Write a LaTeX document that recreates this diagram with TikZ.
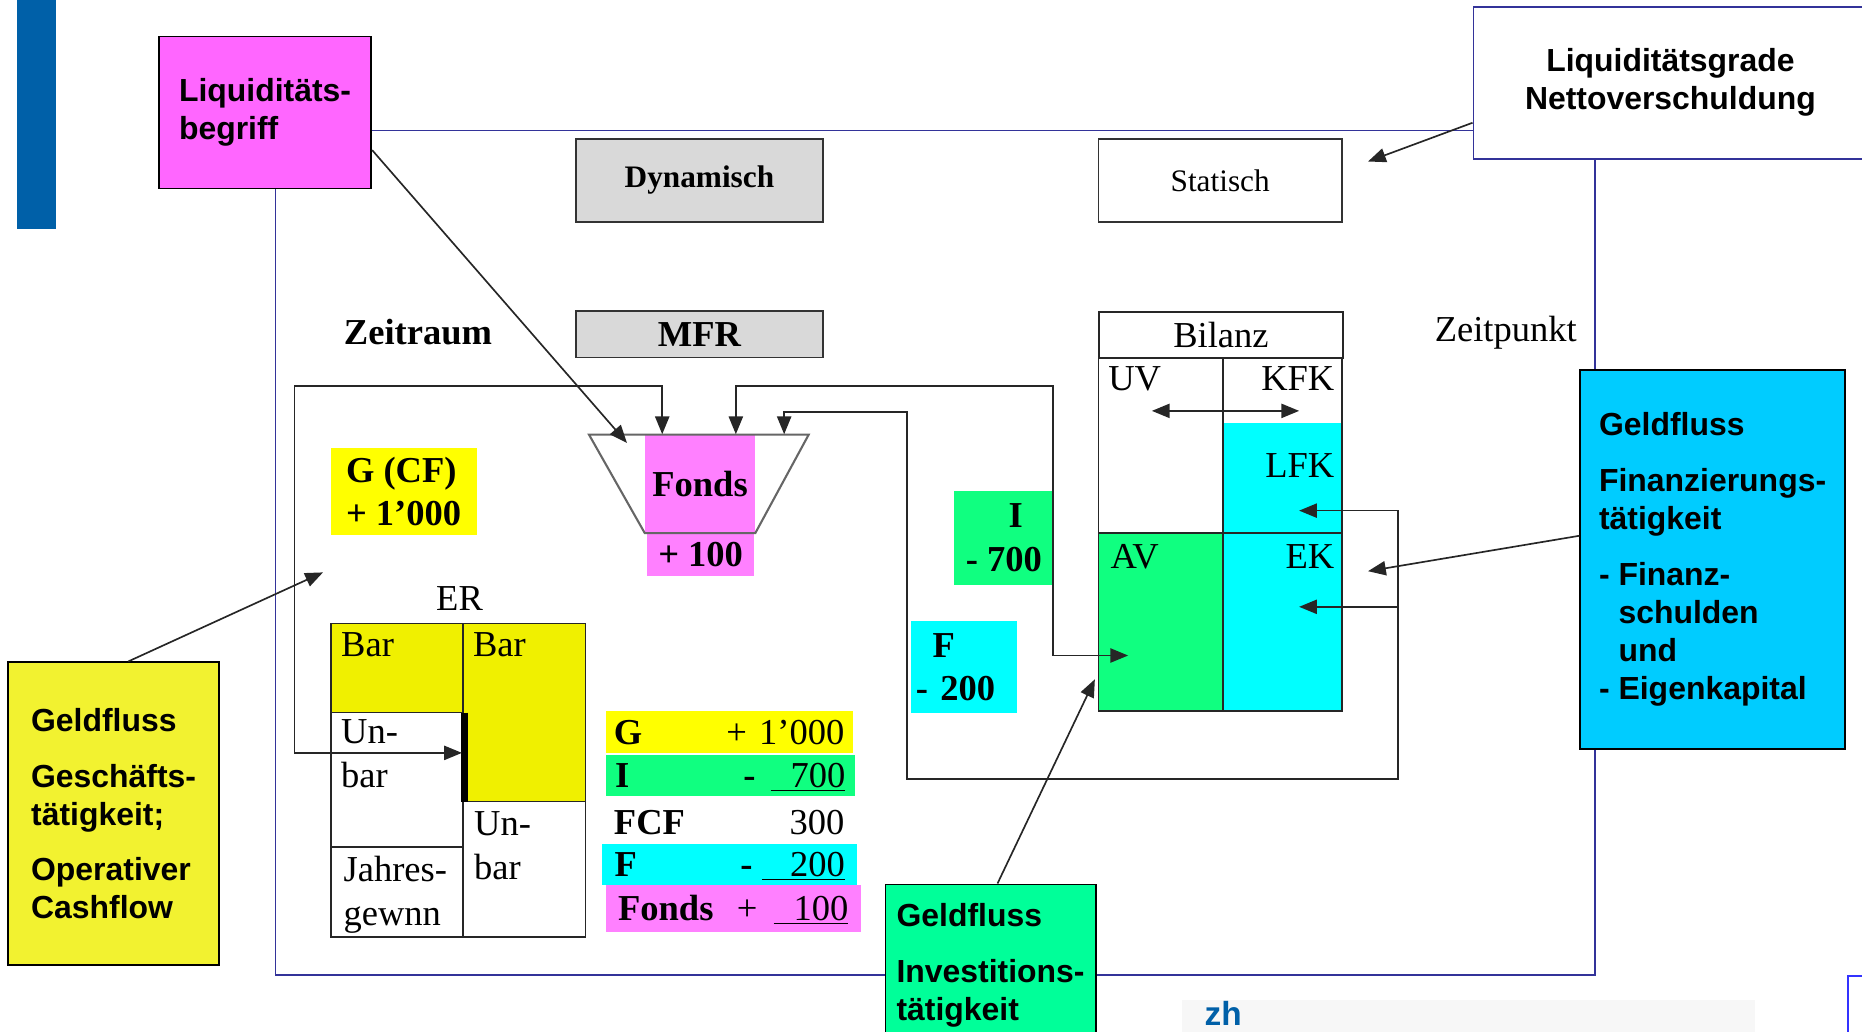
\documentclass[tikz,border=0pt]{standalone}
\usepackage{fontspec}
\setmainfont{Liberation Serif}
\setsansfont{Liberation Sans}
\usetikzlibrary{arrows.meta,calc}
\definecolor{gelb}{HTML}{FFFF00}
\definecolor{ergelb}{HTML}{F0F000}
\definecolor{hinweisgelb}{HTML}{F2F230}
\definecolor{gruen}{HTML}{10FF80}
\definecolor{hinweisgruen}{HTML}{00FF99}
\definecolor{tuerkis}{HTML}{00FFFF}
\definecolor{hinweisblau}{HTML}{00CCFF}
\definecolor{lmag}{HTML}{FF66FF}
\definecolor{fmag}{HTML}{FF80FF}
\definecolor{grau}{HTML}{D9D9D9}
\definecolor{rahmen}{HTML}{333399}
\definecolor{balken}{HTML}{0060A8}

\begin{document}
\begin{tikzpicture}[
    x=0.02cm, y=-0.02cm,
    hinweis/.style={draw, line width=0.8pt, anchor=north west, align=left, inner sep=0pt,
                    font=\sffamily\bfseries\fontsize{15.3}{18.2}\selectfont},
    kasten/.style={draw=black!80, line width=0.8pt, inner sep=0pt, font=\fontsize{15}{18}\selectfont},
    wert/.style={anchor=north west, inner sep=0pt, align=left, font=\fontsize{17.5}{21}\selectfont},
    feld/.style={inner sep=0pt, font=\bfseries\fontsize{17.5}{21}\selectfont},
    zeile/.style={inner sep=0pt, text width=3.88cm, text height=14pt, text depth=2.5pt,
                  font=\fontsize{17.5}{21}\selectfont},
    linie/.style={line width=0.8pt, draw=black!85},
    pfeil/.style={linie, -{Triangle[length=0.3cm,width=0.24cm]}},
    doppelpfeil/.style={linie, {Triangle[length=0.3cm,width=0.24cm]}-{Triangle[length=0.3cm,width=0.24cm]}}
  ]
  \useasboundingbox (0,0) rectangle (1568,869);
  \clip (0,0) rectangle (1568,869);

  % Folienrand
  \fill[balken] (14,0) rectangle (47,193);
  \fill[black!3] (995,842) rectangle (1478,869);
  \node[anchor=north west, inner sep=0pt, text=balken, font=\sffamily\bfseries\fontsize{16}{16}\selectfont] (logo) at (1014,843) {zh};
  \draw[blue!80, line width=1pt] (1556,822) rectangle (1575,875);

  % Rahmen
  \draw[rahmen, line width=0.7pt] (232,110) rectangle (1343,821);

  % Hinweise
  \node[hinweis, fill=lmag, minimum width=3.58cm, minimum height=2.56cm] (liq) at (133,30) {Liquiditäts-\\begriff};
  \node[hinweis, draw=rahmen, fill=white, align=center, minimum width=6.64cm, minimum height=2.56cm] (grade) at (1240,5)
    {Liquiditätsgrade\\Nettoverschuldung};
  \node[hinweis, fill=hinweisgelb, minimum width=3.56cm, minimum height=5.1cm] (geschaeft) at (6,557)
    {Geldfluss\\[0.3cm]Geschäfts-\\tätigkeit;\\[0.3cm]Operativer\\Cashflow};
  \node[hinweis, fill=hinweisblau, minimum width=4.46cm, minimum height=6.38cm] (finanz) at (1330,311)
    {Geldfluss\\[0.3cm]Finanzierungs-\\tätigkeit\\[0.3cm]- Finanz-\\\hphantom{- }schulden\\\hphantom{- }und\\- Eigenkapital};
  \node[hinweis, fill=hinweisgruen, minimum width=3.54cm, minimum height=2.72cm] (invest) at (745,744)
    {Geldfluss\\[0.3cm]Investitions-\\tätigkeit};

  % Kopf
  \node[kasten, fill=grau, minimum width=4.16cm, minimum height=1.4cm, font=\bfseries\fontsize{15}{18}\selectfont] (dyn) at (589,152) {Dynamisch};
  \node[kasten, fill=white, minimum width=4.1cm, minimum height=1.4cm] (stat) at (1027.5,152) {Statisch};
  \node[kasten, fill=grau, minimum width=4.16cm, minimum height=0.78cm, font=\bfseries\fontsize{17.5}{21}\selectfont] (mfr) at (589,281.5) {MFR};
  \node[feld] (zeitraum) at (352,280) {Zeitraum};
  \node[inner sep=0pt, font=\fontsize{17.5}{21}\selectfont] (zeitpunkt) at (1268,280) {Zeitpunkt};

  % Fonds
  \node[feld, fill=fmag, minimum width=1.86cm, minimum height=1.66cm] (fonds) at (589.5,407.5) {Fonds};
  \node[feld, fill=fmag, anchor=north, minimum width=1.8cm, minimum height=0.72cm] (fondsplus) at (590,449) {+ 100};
  \draw[black!60, line width=1pt] (496,366) -- (681,366) -- (636,449) -- (543,449) -- cycle;

  \node[feld, anchor=north west, fill=gelb, minimum width=2.46cm, minimum height=1.46cm, align=left] (gcf) at (278,377) {G (CF)\\+ 1’000};
  \node[feld, anchor=north west, fill=gruen, minimum width=1.68cm, minimum height=1.58cm, align=center] (ibox) at (803,413) {\hspace*{0.4cm}I\\- 700};
  \node[feld, anchor=north west, fill=tuerkis, minimum width=1.78cm, minimum height=1.54cm, text width=1.62cm, align=left] (fbox) at (767,523) {\hspace*{0.28cm}F\\- 200};

  % Bilanz
  \node[linie, draw, inner sep=0pt, anchor=north west, minimum width=4.1cm, minimum height=0.78cm, font=\fontsize{17.5}{21}\selectfont] (bilanz) at (925,262) {Bilanz};
  \fill[tuerkis] (1030,356) rectangle (1130,599);
  \fill[gruen] (925,449) rectangle (1030,599);
  \draw[linie] (925,301) rectangle (1130,599);
  \draw[linie] (1030,301) -- (1030,599);
  \draw[linie] (925,449) -- (1130,449);
  \node[wert] (uv) at (933,308) {UV};
  \node[wert, anchor=north east] (kfk) at (1124,308) {KFK};
  \node[wert, anchor=north east] (lfk) at (1124,382) {LFK};
  \node[wert] (av) at (935,458) {AV};
  \node[wert, anchor=north east] (ek) at (1124,458) {EK};

  % ER
  \node[inner sep=0pt, font=\fontsize{17.5}{21}\selectfont] (er) at (387,504) {ER};
  \fill[ergelb] (279,525) rectangle (390,600);
  \fill[ergelb] (390,525) rectangle (493,675);
  \draw[linie] (279,525) rectangle (493,789);
  \draw[linie] (390,525) -- (390,789);
  \draw[linie] (279,600) -- (390,600);
  \draw[linie] (279,713) -- (390,713);
  \draw[linie] (390,675) -- (493,675);
  \draw[line width=3.5pt] (391,600) -- (391,675);
  \node[wert] (barl) at (287,532) {Bar};
  \node[wert] (barr) at (398,532) {Bar};
  \node[wert] (unbarl) at (287,606) {Un-\\bar};
  \node[wert] (unbarr) at (399,683) {Un-\\bar};
  \node[wert] (jahr) at (289,721) {Jahres-\\gewnn};

  % Fondsrechnung
  \node[zeile, fill=gelb, minimum width=4.16cm, minimum height=0.7cm] (sg) at (614,616.5) {\textbf{G}\hfill + 1’000};
  \node[zeile, fill=gruen, minimum width=4.2cm, minimum height=0.68cm] (si) at (615,653)
    {\textbf{I}\hfill\makebox[0.46cm][l]{\textbf{-}}\underline{\makebox[1.26cm][r]{700}}};
  \node[zeile, minimum width=4.16cm, minimum height=0.7cm] (sfcf) at (614,692.5) {\textbf{FCF}\hfill 300};
  \node[zeile, fill=tuerkis, minimum width=4.3cm, minimum height=0.68cm] (sf) at (614.5,728)
    {\textbf{F}\hfill\makebox[0.36cm][l]{\textbf{-}}\underline{\makebox[1.4cm][r]{200}}};
  \node[zeile, fill=fmag, minimum width=4.3cm, minimum height=0.8cm] (sfonds) at (617.5,765)
    {\textbf{Fonds}\hfill\makebox[0.62cm][l]{+}\underline{\makebox[1.26cm][r]{100}}};

  % Zielpunkte
  \coordinate (fondsziel) at (528,373);
  \coordinate (statziel) at (1152,136);
  \coordinate (erziel) at (272,482);
  \coordinate (avziel) at (922,572);
  \coordinate (ekziel) at (1152,481);
  \coordinate (unbarziel) at (389,634);
  \coordinate (avpfeil) at (950,552);
  \coordinate (lfkpfeil) at (1094,430);
  \coordinate (ekpfeil) at (1094,511);
  \coordinate (uvpfeil) at (970,346);
  \coordinate (kfkpfeil) at (1094,346);

  % Geldfluesse
  \draw[doppelpfeil] ($(fonds.north west)+(15,0)$) |- (248,325) |- (unbarziel);
  \draw[doppelpfeil] ($(fonds.north west)+(77,0)$) |- (887,325) |- (avpfeil);
  \draw[doppelpfeil] ($(fonds.north east)+(24,0)$) |- (764,347) |- (1177,656) |- (lfkpfeil);
  \draw[pfeil] (1177,511) -- (ekpfeil);
  \draw[doppelpfeil] (uvpfeil) -- (kfkpfeil);

  % Hinweispfeile
  \draw[pfeil] ($(liq.south east)+(0,-33)$) -- (fondsziel);
  \draw[pfeil] ($(grade.south west)+(0,-31)$) -- (statziel);
  \draw[pfeil] ($(geschaeft.north west)+(102,0)$) -- (erziel);
  \draw[pfeil] ($(invest.north west)+(95,0)$) -- (avziel);
  \draw[pfeil] ($(finanz.west)+(0,-20)$) -- (ekziel);
\end{tikzpicture}
\end{document}
